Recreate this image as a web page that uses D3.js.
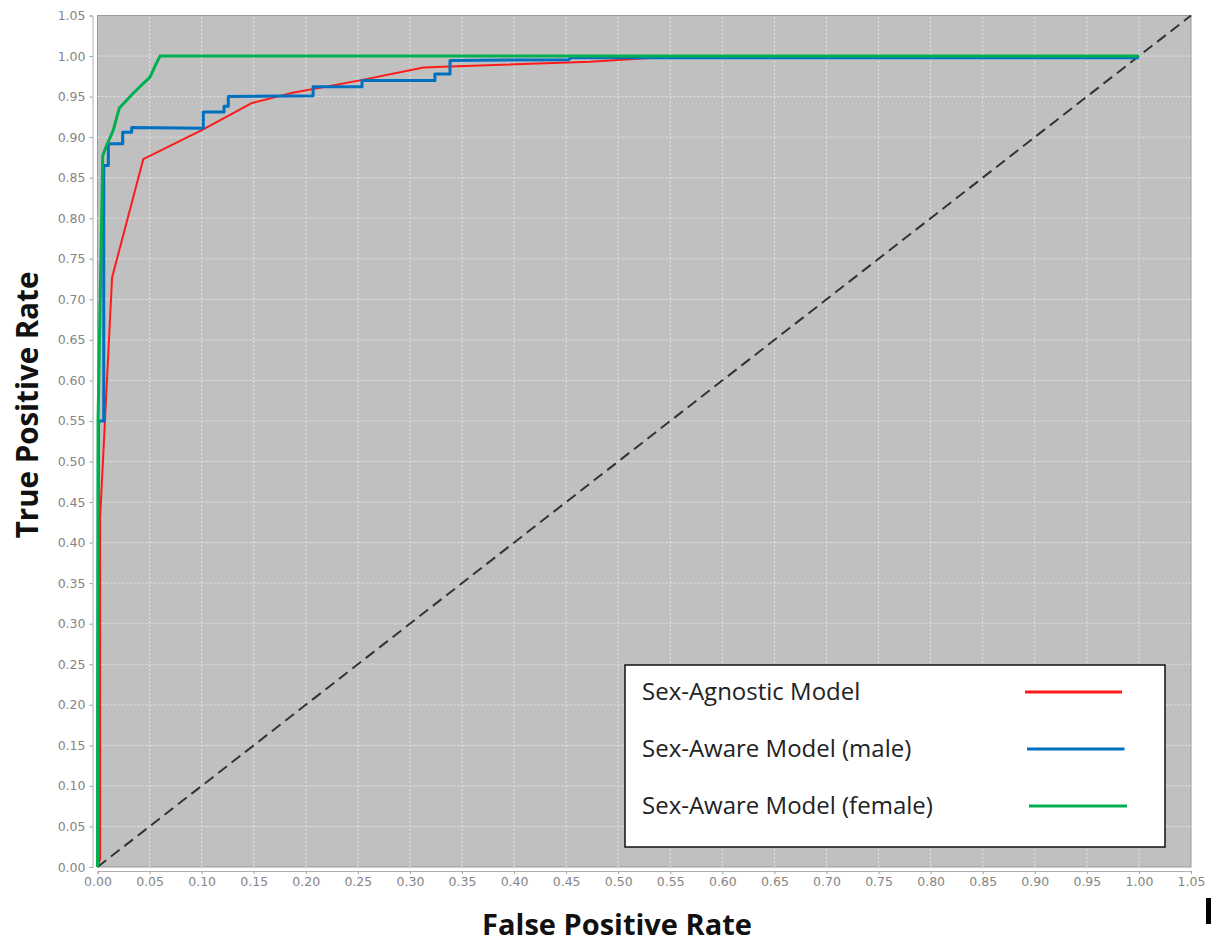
<!DOCTYPE html>
<html>
<head>
<meta charset="utf-8">
<script src="https://cdn.jsdelivr.net/npm/d3@7"></script>
<style>
  html, body { margin: 0; padding: 0; background: #fff; }
  svg { display: block; }
</style>
</head>
<body>
<svg id="chart" width="1211" height="945"></svg>
<script>
// ROC curves: [false positive rate, true positive rate]
const agnosticModel = [
  [0, 0], [0.0025, 0.01], [0.0025, 0.43], [0.014, 0.727], [0.044, 0.873],
  [0.102, 0.910], [0.148, 0.942], [0.185, 0.954], [0.252, 0.970],
  [0.313, 0.986], [0.338, 0.987], [0.473, 0.993], [0.56, 1.0], [1.0, 1.0]
];
const awareMale = [
  [0, 0], [0.001, 0.55], [0.006, 0.55], [0.006, 0.865], [0.0104, 0.865],
  [0.0104, 0.892], [0.0242, 0.892], [0.0242, 0.906], [0.0328, 0.906],
  [0.0328, 0.912], [0.1016, 0.911], [0.1016, 0.931], [0.1215, 0.931],
  [0.1215, 0.938], [0.1256, 0.938], [0.1256, 0.950], [0.207, 0.951],
  [0.207, 0.962], [0.254, 0.962], [0.254, 0.970], [0.324, 0.970],
  [0.324, 0.978], [0.3385, 0.978], [0.3385, 0.9945], [0.452, 0.9955],
  [0.455, 0.998], [1.0, 0.998]
];
const awareFemale = [
  [0, 0], [0.0005, 0.55], [0.004, 0.80], [0.005, 0.877], [0.0088, 0.890],
  [0.015, 0.908], [0.021, 0.936], [0.035, 0.955], [0.0504, 0.974],
  [0.055, 0.987], [0.060, 1.0], [1.0, 1.0]
];
const chanceLine = [[0, 0], [1.05, 1.05]];

const seriesNames = ["Sex-Agnostic Model", "Sex-Aware Model (male)", "Sex-Aware Model (female)"];
const seriesColors = ["#ff1a1a", "#0070c0", "#00b050"];
const tickValues = d3.range(0, 21 + 1).map(i => i * 0.05);
const xTitle = "False Positive Rate";
const yTitle = "True Positive Rate";

const svg = d3.select("#chart");
const x = d3.scaleLinear().domain([0, 1.05]).range([97.5, 1191]);
const y = d3.scaleLinear().domain([0, 1.05]).range([867, 15.5]);

// plot area
svg.append("rect")
  .attr("x", x(0)).attr("y", y(1.05))
  .attr("width", x(1.05) - x(0)).attr("height", y(0) - y(1.05))
  .attr("fill", "#c0c0c0").attr("stroke", "#9a9a9a").attr("stroke-width", 1);

// grid
const grid = svg.append("g").attr("stroke", "#e6e6e6").attr("stroke-width", 1)
  .attr("stroke-dasharray", "2,2");
tickValues.slice(1, -1).forEach(v => {
  grid.append("line").attr("x1", x(v)).attr("x2", x(v)).attr("y1", y(0)).attr("y2", y(1.05));
  grid.append("line").attr("x1", x(0)).attr("x2", x(1.05)).attr("y1", y(v)).attr("y2", y(v));
});

// axes (offset from the plot area)
const fmt = d3.format(".2f");
const xAxis = svg.append("g").attr("transform", "translate(0,871)")
  .call(d3.axisBottom(x).tickValues(tickValues).tickFormat(fmt).tickSize(3).tickPadding(3));
const yAxis = svg.append("g").attr("transform", "translate(92.5,0)")
  .call(d3.axisLeft(y).tickValues(tickValues).tickFormat(fmt).tickSize(3).tickPadding(4));
[xAxis, yAxis].forEach(a => {
  a.select(".domain").attr("stroke", "#b0b0b0");
  a.selectAll(".tick line").attr("stroke", "#a0a0a0");
  a.selectAll(".tick text").attr("fill", "#858585")
    .style("font-family", "'DejaVu Sans', sans-serif").style("font-size", "12.5px");
});

// diagonal chance line
const line = d3.line().x(d => x(d[0])).y(d => y(d[1]));
svg.append("path").datum(chanceLine).attr("d", line)
  .attr("fill", "none").attr("stroke", "#333").attr("stroke-width", 2)
  .attr("stroke-dasharray", "11,6");

// ROC curves
const curves = [agnosticModel, awareMale, awareFemale];
const widths = [2, 3, 3];
curves.forEach((c, i) => {
  svg.append("path").datum(c).attr("d", line)
    .attr("fill", "none").attr("stroke", seriesColors[i])
    .attr("stroke-width", widths[i]).attr("stroke-linejoin", "round");
});

// legend
const legend = svg.append("g");
legend.append("rect").attr("x", 625).attr("y", 665).attr("width", 540).attr("height", 182)
  .attr("fill", "#fff").attr("stroke", "#111").attr("stroke-width", 1.5);
seriesNames.forEach((name, i) => {
  const ly = 692 + i * 57;
  legend.append("text").attr("x", 642).attr("y", ly + 8).text(name)
    .attr("fill", "#222").style("font-family", "'Open Sans', sans-serif").style("font-size", "24px");
  legend.append("line").attr("x1", 1025 + i * 2).attr("x2", 1122 + i * 2.5)
    .attr("y1", ly).attr("y2", ly)
    .attr("stroke", seriesColors[i]).attr("stroke-width", 3);
});

// axis titles
svg.append("text").attr("x", 617).attr("y", 935).attr("text-anchor", "middle")
  .text(xTitle).style("font-family", "'Open Sans', sans-serif")
  .style("font-weight", "bold").style("font-size", "29px").attr("fill", "#111");
svg.append("text").attr("transform", "translate(38,405) rotate(-90)").attr("text-anchor", "middle")
  .text(yTitle).style("font-family", "'Open Sans', sans-serif")
  .style("font-weight", "bold").style("font-size", "29.5px").attr("fill", "#111");

// small black bar at the lower right edge
svg.append("rect").attr("x", 1206).attr("y", 898).attr("width", 5).attr("height", 26).attr("fill", "#000");
</script>
</body>
</html>
